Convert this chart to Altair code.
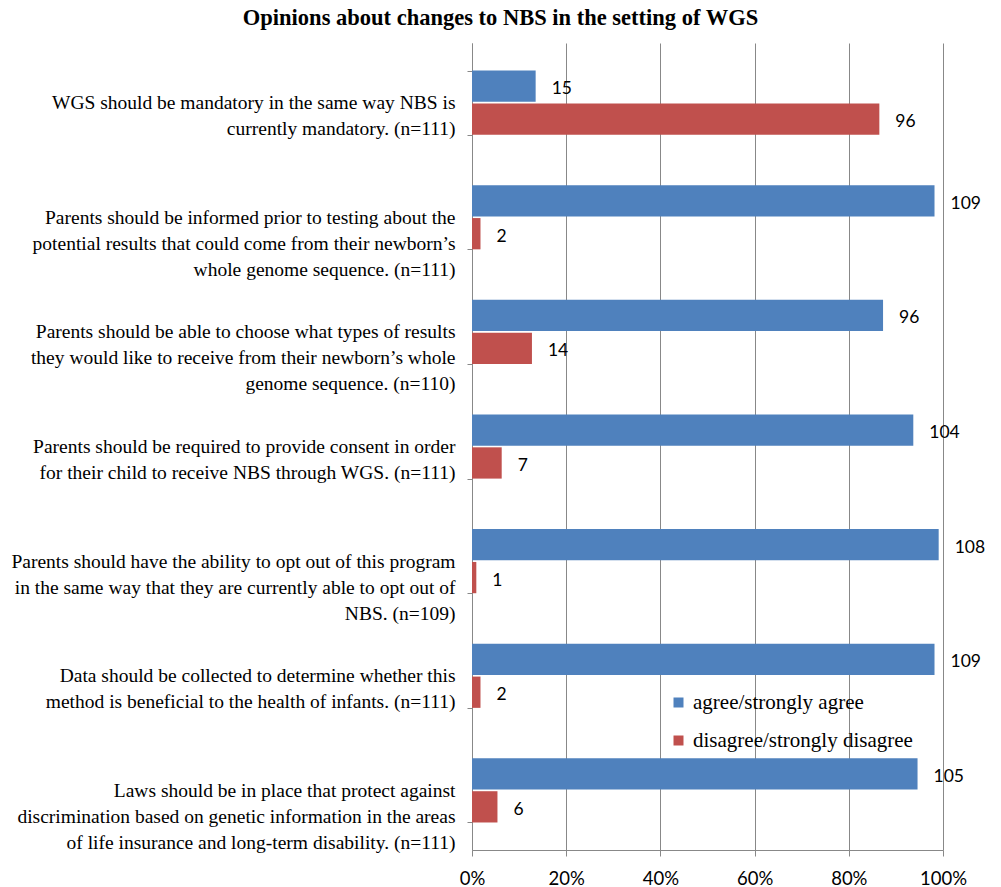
import altair as alt
import pandas as pd

statements = [
    ["WGS should be mandatory in the same way NBS is", "currently mandatory. (n=111)"],
    ["Parents should be informed prior to testing about the",
     "potential results that could come from their newborn\u2019s",
     "whole genome sequence. (n=111)"],
    ["Parents should be able to choose what types of results",
     "they would like to receive from their newborn\u2019s whole",
     "genome sequence. (n=110)"],
    ["Parents should be required to provide consent in order",
     "for their child to receive NBS through WGS. (n=111)"],
    ["Parents should have the ability to opt out of this program",
     "in the same way that they are currently able to opt out of",
     "NBS. (n=109)"],
    ["Data should be collected to determine whether this",
     "method is beneficial to the health of infants. (n=111)"],
    ["Laws should be in place that protect against",
     "discrimination based on genetic information in the areas",
     "of life insurance and long-term disability. (n=111)"],
]
n_total = [111, 111, 110, 111, 109, 111, 111]
agree = [15, 109, 96, 104, 108, 109, 105]
disagree = [96, 2, 14, 7, 1, 2, 6]
series = ["agree/strongly agree", "disagree/strongly disagree"]
colors = ["#4F81BD", "#C0504D"]

rows = []
for lines, n, a, d in zip(statements, n_total, agree, disagree):
    key = "|".join(lines)
    rows.append({"statement": key, "series": series[0], "count": a, "pct": a / n})
    rows.append({"statement": key, "series": series[1], "count": d, "pct": d / n})
df = pd.DataFrame(rows)
order = ["|".join(l) for l in statements]

SERIF = "Liberation Serif"

y_enc = alt.Y("statement:N", sort=order,
              scale=alt.Scale(paddingInner=0.44, paddingOuter=0.24),
              axis=alt.Axis(title=None, labelExpr="split(datum.label, '|')",
                            labelFont=SERIF, labelFontSize=19.5,
                            labelColor="black", labelLineHeight=26,
                            labelAlign="right", labelBaseline="middle",
                            labelPadding=12, tickBand="extent", tickSize=5,
                            tickColor="#888888", domainColor="#888888",
                            labelLimit=0))
yoff = alt.YOffset("series:N", sort=series, scale=alt.Scale(paddingInner=0.05))

base = alt.Chart(df)

bars = base.mark_bar().encode(
    x=alt.X("pct:Q", scale=alt.Scale(domain=[0, 1]),
            axis=alt.Axis(title=None, format="%", values=[0, 0.2, 0.4, 0.6, 0.8, 1.0],
                          labelFont="Lato", labelFontSize=18.5, labelColor="black",
                          labelPadding=13, tickSize=6, tickColor="#888888",
                          labelFlush=False,
                          domainColor="#888888", gridColor="#888888",
                          gridOpacity=1, grid=True)),
    y=y_enc,
    yOffset=yoff,
    color=alt.Color("series:N", sort=series,
                    scale=alt.Scale(domain=series, range=colors),
                    legend=alt.Legend(title=None, orient="none", legendX=196, legendY=649,
                                      symbolType="square", symbolSize=100,
                                      symbolStrokeWidth=0, labelOffset=4,
                                      labelFont=SERIF, labelFontSize=21,
                                      labelColor="black", rowPadding=16,
                                      labelLimit=0)),
)

labels = base.mark_text(align="left", baseline="middle", dx=16, dy=3,
                        font="Lato", fontSize=17.5, color="black").encode(
    x="pct:Q",
    y=alt.Y("statement:N", sort=order),
    yOffset=yoff,
    text="count:Q",
)

chart = (bars + labels).properties(
    width=471, height=807,
    title=alt.Title("Opinions about changes to NBS in the setting of WGS",
                    font=SERIF, fontSize=22.5, fontWeight="bold",
                    color="black", anchor="middle", dx=-207, offset=4),
    autosize=alt.AutoSizeParams(type="none"),
    padding={"left": 472, "top": 43, "right": 58, "bottom": 37},
).configure_view(stroke=None)

chart.save("out.html", embed_options={"renderer": "svg", "actions": False})
